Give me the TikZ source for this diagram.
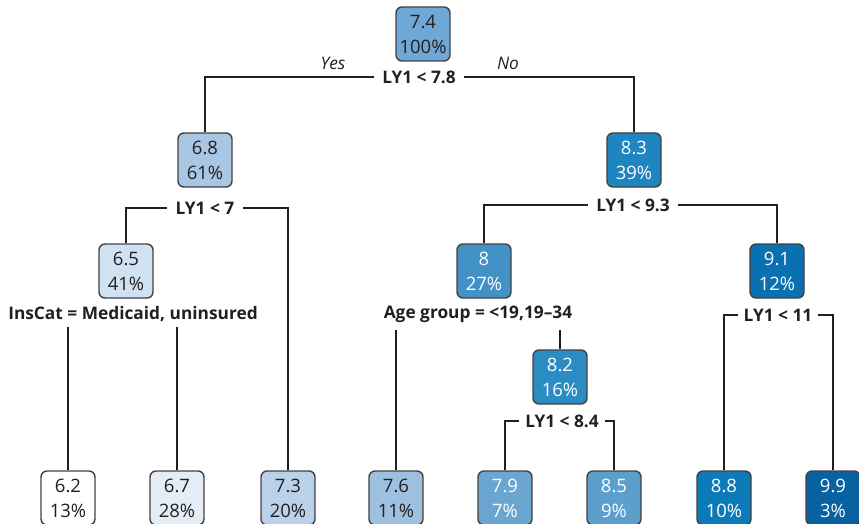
\documentclass[tikz,border=0pt]{standalone}
\usepackage{fontspec}
\setmainfont{Open Sans}
\usetikzlibrary{positioning}
\definecolor{ink}{HTML}{231F20}
\definecolor{cA}{HTML}{6FA8D6}
\definecolor{cB}{HTML}{A9C7E4}
\definecolor{cC}{HTML}{D0E1F2}
\definecolor{cD}{HTML}{FFFFFF}
\definecolor{cE}{HTML}{E4EDF6}
\definecolor{cF}{HTML}{B9D2EA}
\definecolor{cG}{HTML}{9DC0E0}
\definecolor{cH}{HTML}{6AA6D0}
\definecolor{cI}{HTML}{5C9FCC}
\definecolor{cJ}{HTML}{1E85C0}
\definecolor{cK}{HTML}{4292C6}
\definecolor{cL}{HTML}{2B8CC4}
\definecolor{cM}{HTML}{0A70B0}
\definecolor{cN}{HTML}{0B7AB8}
\definecolor{cO}{HTML}{0862A2}
\tikzset{
  box/.style={draw=ink!85, line width=1.4pt, rounded corners=6pt, minimum width=54pt, minimum height=54pt,
    inner sep=0pt, align=center, font=\fontsize{18.5}{25}\selectfont, text=ink},
  wbox/.style={box, text=white},
  split/.style={font=\bfseries\fontsize{17.3}{20}\selectfont, text=ink, inner xsep=8pt, inner ysep=3pt},
  yn/.style={font=\itshape\fontsize{17.3}{20}\selectfont, text=ink},
  edge/.style={draw=ink, line width=2.8pt},
}
\begin{document}
\begin{tikzpicture}[x=1pt,y=-1pt]
\useasboundingbox (0,0) rectangle (859,524);
% internal nodes
\node[box, fill=cA] (n1) at (423,34) {7.4\\100\%};
\node[box, fill=cB] (n2) at (205,160) {6.8\\61\%};
\node[wbox, fill=cJ] (n3) at (634,160) {8.3\\39\%};
\node[box, fill=cC] (n4) at (126,271) {6.5\\41\%};
\node[wbox, fill=cK] (n6) at (484,271) {8\\27\%};
\node[wbox, fill=cM] (n7) at (777,271) {9.1\\12\%};
\node[wbox, fill=cL] (n13) at (560,377) {8.2\\16\%};
% leaves
\node[box, fill=cD] (l1) at (68,498) {6.2\\13\%};
\node[box, fill=cE] (l2) at (177,498) {6.7\\28\%};
\node[box, fill=cF] (l3) at (288,498) {7.3\\20\%};
\node[box, fill=cG] (l4) at (396,498) {7.6\\11\%};
\node[wbox, fill=cH] (l5) at (505,498) {7.9\\7\%};
\node[wbox, fill=cI] (l6) at (614,498) {8.5\\9\%};
\node[wbox, fill=cN] (l7) at (724,498) {8.8\\10\%};
\node[wbox, fill=cO] (l8) at (833,498) {9.9\\3\%};
% split labels
\node[split] (s1) at (419,77) {LY1 < 7.8};
\node[yn] (yes) at (333,63) {Yes};
\node[yn] (no) at (508,63) {No};
\node[split] (s2) at (205,208) {LY1 < 7};
\node[split] (s3) at (633,205) {LY1 < 9.3};
\node[split, inner ysep=5pt] (s4) at (133,314) {InsCat = Medicaid, uninsured};
\node[split, inner ysep=7pt] (s6) at (478,314) {Age group = <19,19–34};
\node[split, inner xsep=6pt] (s7) at (778,315) {LY1 < 11};
\node[split, inner xsep=6pt] (s13) at (562,421) {LY1 < 8.4};
% connectors
\draw[edge] (n2.north) |- (s1.west);
\draw[edge] (n3.north) |- (s1.east);
\draw[edge] (n4.north) |- (s2.west);
\draw[edge] (l3.north) |- (s2.east);
\draw[edge] (n6.north) |- (s3.west);
\draw[edge] (n7.north) |- (s3.east);
\draw[edge] (l1.north) -- (l1.north |- s4.south);
\draw[edge] (l2.north) -- (l2.north |- s4.south);
\draw[edge] (l4.north) -- (l4.north |- s6.south);
\draw[edge] (n13.north) -- (n13.north |- s6.south);
\draw[edge] (l7.north) |- (s7.west);
\draw[edge] (l8.north) |- (s7.east);
\draw[edge] (l5.north) |- (s13.west);
\draw[edge] (l6.north) |- (s13.east);
\end{tikzpicture}
\end{document}
